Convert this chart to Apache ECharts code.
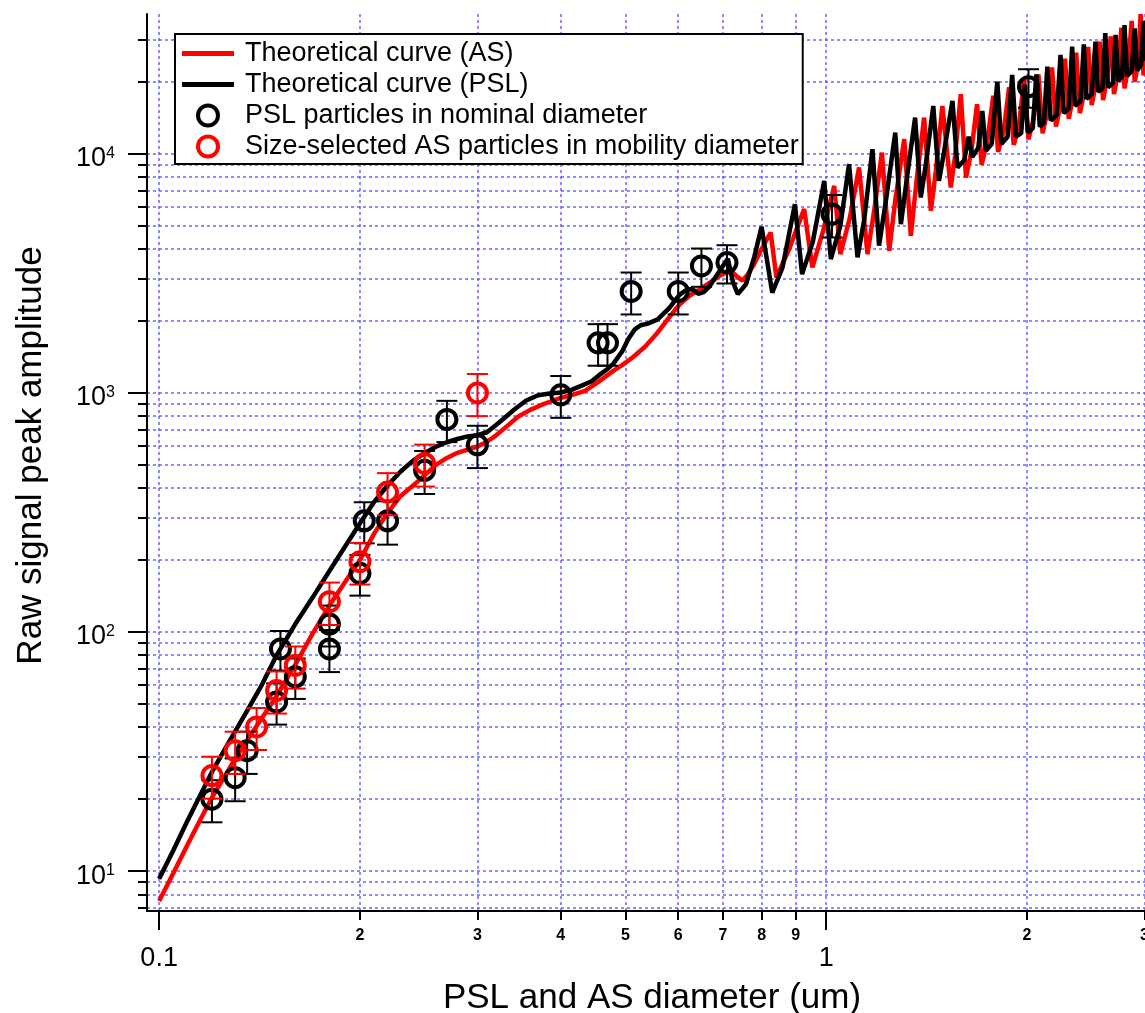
<!DOCTYPE html>
<html>
<head>
<meta charset="utf-8">
<script src="https://cdn.jsdelivr.net/npm/echarts@6/dist/echarts.min.js"></script>
<style>
  html, body { margin: 0; padding: 0; background: #ffffff; overflow: hidden; }
  #chart { width: 1145px; height: 1013px; }
</style>
</head>
<body>
<div id="chart"></div>
<script>
// ---- Tick positions and labels ----
const xMajorTicks  = [0.1, 1];
const xMajorLabels = ['0.1', '1'];
const xMinorTicks  = [0.2, 0.3, 0.4, 0.5, 0.6, 0.7, 0.8, 0.9, 2, 3];
const xMinorLabels = ['2', '3', '4', '5', '6', '7', '8', '9', '2', '3'];
const yMajorTicks  = [10, 100, 1000, 10000];
const yMajorExps   = ['1', '2', '3', '4'];
const yMinorTicks  = [7, 8, 9,
  20, 30, 40, 50, 60, 70, 80, 90,
  200, 300, 400, 500, 600, 700, 800, 900,
  2000, 3000, 4000, 5000, 6000, 7000, 8000, 9000,
  20000, 30000];

// ---- Theoretical curve, ammonium sulfate (diameter um, amplitude) ----
const asCurveX = [0.1, 0.105, 0.11, 0.115, 0.12, 0.13, 0.14, 0.15, 0.16, 0.17, 0.18, 0.19, 0.2, 0.21, 0.22, 0.23, 0.245, 0.26, 0.27, 0.28, 0.29, 0.3,
  0.31, 0.32, 0.333, 0.345, 0.36, 0.375, 0.39, 0.4, 0.415, 0.435, 0.455, 0.48, 0.495, 0.513, 0.535, 0.556, 0.58, 0.603, 0.625, 0.647, 0.67, 0.692,
  0.71, 0.724, 0.737, 0.749, 0.762, 0.777, 0.8, 0.8255, 0.842, 0.88, 0.9266, 0.9533, 0.99, 1.028, 1.05, 1.085, 1.12, 1.153, 1.18, 1.212, 1.243,
  1.27, 1.309, 1.339, 1.365, 1.402, 1.435, 1.46, 1.493, 1.537, 1.56, 1.591, 1.62, 1.65, 1.683, 1.71, 1.745, 1.78, 1.81, 1.845, 1.88, 1.91, 1.945,
  1.98, 2.01, 2.045, 2.08, 2.11, 2.145, 2.18, 2.21, 2.245, 2.28, 2.31, 2.34, 2.37, 2.4, 2.435, 2.47, 2.5, 2.535, 2.57, 2.6, 2.635, 2.67, 2.7,
  2.735, 2.77, 2.8, 2.835, 2.87, 2.9, 2.935, 2.96, 2.99, 3.01];
const asCurveY = [7.5, 9.8, 12.7, 16.2, 20.3, 29.5, 40.5, 54, 73, 99, 129, 162, 200, 258, 315, 370, 430, 500, 535, 562, 580, 597,
  625, 665, 730, 795, 850, 893, 930, 955, 980, 1020, 1110, 1240, 1310, 1410, 1560, 1760, 2050, 2350, 2560, 2720, 2900, 3090,
  3200, 3190, 3050, 2950, 3120, 3400, 4000, 4690, 3040, 4000, 5875, 3350, 4800, 7350, 3810, 5400, 8770, 3810, 5800, 10130, 3935,
  6500, 11520, 4540, 7600, 14180, 5780, 8500, 15870, 7240, 9800, 17760, 7965, 10200, 16130, 9000, 11500, 17500, 10200, 12500, 19000, 10900, 13200,
  20500, 11500, 14000, 21500, 12200, 15000, 23000, 13000, 16000, 25000, 14000, 17000, 26500, 14800, 18000, 28000, 16000, 19500, 29500, 16800, 20500, 31000, 17800,
  21500, 33700, 18800, 23000, 36000, 20000, 24000, 38400, 21300, 24000];

// ---- Theoretical curve, polystyrene latex ----
const pslCurveX = [0.1, 0.105, 0.11, 0.115, 0.12, 0.1275, 0.135, 0.1425, 0.15, 0.16, 0.17, 0.18, 0.19, 0.2, 0.21, 0.22, 0.23, 0.24, 0.25, 0.26,
  0.27, 0.28, 0.29, 0.3, 0.31, 0.32, 0.33, 0.34, 0.355, 0.37, 0.385, 0.4, 0.415, 0.43, 0.445, 0.457, 0.47, 0.48, 0.495, 0.505, 0.516, 0.527,
  0.54, 0.559, 0.582, 0.603, 0.62, 0.632, 0.643, 0.655, 0.669, 0.692, 0.712, 0.725, 0.737, 0.758, 0.78, 0.8, 0.83, 0.86, 0.8975, 0.92, 0.955,
  0.993, 1.016, 1.05, 1.082, 1.114, 1.14, 1.173, 1.2, 1.23, 1.269, 1.294, 1.32, 1.359, 1.386, 1.41, 1.447, 1.476, 1.5, 1.546, 1.573, 1.61,
  1.635, 1.655, 1.69, 1.714, 1.735, 1.77, 1.805, 1.83, 1.87, 1.9, 1.925, 1.96, 1.985, 2.005, 2.04, 2.065, 2.09, 2.12, 2.145, 2.17, 2.215,
  2.245, 2.27, 2.31, 2.337, 2.36, 2.405, 2.433, 2.455, 2.5, 2.533, 2.555, 2.595, 2.62, 2.645, 2.69, 2.715, 2.74, 2.775, 2.8, 2.825, 2.87,
  2.9, 2.925, 2.965, 2.99, 3.01];
const pslCurveY = [9.3, 12.2, 16, 20.5, 26, 35, 46, 60, 80, 108, 140, 180, 228, 285, 350, 410, 468, 520, 560, 596,
  622, 642, 658, 666, 685, 735, 790, 848, 930, 978, 995, 1005, 1030, 1073, 1120, 1190, 1260, 1330, 1500, 1680, 1840, 1920,
  1950, 2030, 2270, 2580, 2720, 2700, 2600, 2640, 2800, 3240, 3640, 2900, 2590, 2850, 3700, 4950, 2630, 3350, 6160, 3140, 4300,
  7700, 3630, 5000, 9060, 3690, 5300, 10460, 4130, 6500, 12280, 5080, 7800, 14180, 6570, 9000, 15870, 7710, 10000, 16650, 8770, 9400,
  11800, 9700, 10600, 15120, 10300, 11000, 20050, 11000, 11800, 21380, 11800, 12200, 19500, 12300, 12800, 21500, 13000, 13500, 23170, 13800, 14500,
  25930, 14800, 15500, 28080, 15900, 16600, 28730, 17000, 17800, 29460, 18200, 18800, 32000, 19000, 19800, 31500, 20200, 21000, 34600, 21200, 22200,
  33500, 22300, 23600, 36000, 24500];

// ---- Measured PSL particles (nominal diameter) ----
const pslX   = [0.12, 0.13, 0.1355, 0.15, 0.152, 0.16, 0.18, 0.18, 0.2, 0.203, 0.22, 0.25, 0.27, 0.3, 0.4, 0.455, 0.47, 0.51, 0.6, 0.65, 0.71, 1.02, 2.01];
const pslY   = [20, 24.6, 31.9, 51, 85, 65, 108, 85, 176, 292, 292, 475, 775, 607, 982, 1620, 1620, 2660, 2660, 3400, 3510, 5600, 19100];
const pslErr = [4, 5, 6.4, 10, 16, 12.5, 21, 17, 34, 57, 60, 97, 152, 122, 195, 320, 320, 530, 530, 620, 640, 1130, 3500];

// ---- Size-selected AS particles (mobility diameter) ----
const asX   = [0.12, 0.13, 0.14, 0.15, 0.16, 0.18, 0.2, 0.22, 0.25, 0.3];
const asY   = [25.1, 31.9, 40.1, 57, 72.5, 134, 197, 385, 507, 1000];
const asErr = [5, 6.4, 8, 11.4, 14.5, 27, 39, 77, 101, 200];

// ---- Styling ----
const FONT = 'Liberation Sans, Arial, sans-serif';
const GRID_COLOR = 'rgba(85, 85, 255, 0.9)';
const RED = '#ff0000';
const BLACK = '#000000';
const X_MIN = 0.0959, X_MAX = 3.005;
const Y_MIN = 6.81, Y_MAX = 38470;
// legend swatch for the curves: a 5px bar centred in a 52x20 box
const LINE_ICON = 'path://M0,0h0.01v0.01h-0.01z M0,7.5h52v5h-52z M0,20h0.01v-0.01h-0.01z';

function nearestIndex(list, v) {
  let best = 0, bestD = Infinity;
  list.forEach((t, i) => {
    const d = Math.abs(Math.log(v / t));
    if (d < bestD) { bestD = d; best = i; }
  });
  return best;
}

function zip(xs, ys) { return xs.map((x, i) => [x, ys[i]]); }

function errorBars(name, xs, ys, errs, color, z) {
  return {
    type: 'custom',
    name: name,
    z: z,
    xAxisIndex: 0,
    yAxisIndex: 0,
    silent: true,
    encode: { x: 0, y: 1 },
    data: xs.map((x, i) => [x, ys[i], errs[i]]),
    renderItem: function (params, api) {
      const x = api.value(0), y = api.value(1), e = api.value(2);
      const top = api.coord([x, y + e]);
      const bot = api.coord([x, y - e]);
      const hw = 10.5;
      const st = { stroke: color, lineWidth: 2 };
      return {
        type: 'group',
        children: [
          { type: 'line', shape: { x1: top[0], y1: top[1], x2: bot[0], y2: bot[1] }, style: st },
          { type: 'line', shape: { x1: top[0] - hw, y1: top[1], x2: top[0] + hw, y2: top[1] }, style: st },
          { type: 'line', shape: { x1: bot[0] - hw, y1: bot[1], x2: bot[0] + hw, y2: bot[1] }, style: st }
        ]
      };
    }
  };
}

const splitLine = { show: true, lineStyle: { color: GRID_COLOR, width: 1.5, type: [3, 3] } };

const chart = echarts.init(document.getElementById('chart'), null, { renderer: 'canvas' });

chart.setOption({
  animation: false,
  backgroundColor: '#ffffff',
  grid: { left: 147, top: 14, right: 0, bottom: 102, containLabel: false, outerBoundsMode: 'none' },
  legend: {
    orient: 'vertical',
    left: 175,
    top: 34,
    padding: [4, 4, 2, 7],
    itemGap: 0,
    itemWidth: 52,
    itemHeight: 20,
    selectedMode: false,
    backgroundColor: '#ffffff',
    borderColor: '#000000',
    borderWidth: 2,
    borderRadius: 0,
    textStyle: { fontFamily: FONT, fontSize: 27, color: '#000', lineHeight: 31, padding: [0, 0, 0, 6] },
    data: [
      { name: 'Theoretical curve (AS)', icon: LINE_ICON, itemStyle: { color: RED, borderWidth: 0 } },
      { name: 'Theoretical curve (PSL)', icon: LINE_ICON, itemStyle: { color: BLACK, borderWidth: 0 } },
      { name: 'PSL particles in nominal diameter', icon: 'circle',
        itemStyle: { color: 'rgba(0,0,0,0)', borderColor: BLACK, borderWidth: 4 } },
      { name: 'Size-selected AS particles in mobility diameter', icon: 'circle',
        itemStyle: { color: 'rgba(0,0,0,0)', borderColor: RED, borderWidth: 4 } }
    ]
  },
  xAxis: [
    {
      type: 'log', min: X_MIN, max: X_MAX, position: 'bottom',
      axisLine: { show: true, lineStyle: { color: BLACK, width: 2 } },
      axisTick: { show: true, length: 19, lineStyle: { color: BLACK, width: 2 }, customValues: xMajorTicks },
      axisLabel: {
        customValues: xMajorTicks, margin: 34, fontFamily: FONT, fontSize: 27, color: '#000',
        formatter: v => xMajorLabels[nearestIndex(xMajorTicks, v)]
      },
      splitLine: splitLine,
      name: 'PSL and AS diameter (um)', nameLocation: 'middle', nameGap: 70,
      nameTextStyle: { fontFamily: FONT, fontSize: 35, color: '#000', padding: [0, 0, 0, 12] }
    },
    {
      type: 'log', min: X_MIN, max: X_MAX, position: 'bottom',
      axisLine: { show: false },
      axisTick: { show: true, length: 9, lineStyle: { color: BLACK, width: 2 }, customValues: xMinorTicks },
      axisLabel: {
        customValues: xMinorTicks, margin: 17, fontFamily: FONT, fontSize: 16, fontWeight: 'bold', color: '#000',
        formatter: v => xMinorLabels[nearestIndex(xMinorTicks, v)]
      },
      splitLine: splitLine
    }
  ],
  yAxis: [
    {
      type: 'log', min: Y_MIN, max: Y_MAX, position: 'left',
      axisLine: { show: true, lineStyle: { color: BLACK, width: 2 } },
      axisTick: { show: true, length: 19, lineStyle: { color: BLACK, width: 2 }, customValues: yMajorTicks },
      axisLabel: {
        customValues: yMajorTicks, margin: 32, color: '#000', padding: [10, 0, 0, 0],
        formatter: v => '{b|10}{s|' + yMajorExps[nearestIndex(yMajorTicks, v)] + '}',
        rich: {
          b: { fontFamily: FONT, fontSize: 27, lineHeight: 27, verticalAlign: 'bottom', color: '#000' },
          s: { fontFamily: FONT, fontSize: 16, lineHeight: 16, verticalAlign: 'top', padding: [0, 0, 17, 0], color: '#000' }
        }
      },
      splitLine: splitLine,
      name: 'Raw signal peak amplitude', nameLocation: 'middle', nameGap: 98,
      nameTextStyle: { fontFamily: FONT, fontSize: 35, color: '#000', padding: [0, 0, 0, 14] }
    },
    {
      type: 'log', min: Y_MIN, max: Y_MAX, position: 'left',
      axisLine: { show: false },
      axisTick: { show: true, length: 9, lineStyle: { color: BLACK, width: 2 }, customValues: yMinorTicks },
      axisLabel: { show: false },
      splitLine: splitLine
    }
  ],
  series: [
    {
      name: 'Theoretical curve (AS)', type: 'line', z: 2,
      xAxisIndex: 0, yAxisIndex: 0,
      data: zip(asCurveX, asCurveY),
      symbol: 'none', showSymbol: false,
      lineStyle: { color: RED, width: 4.5 },
      itemStyle: { color: RED }
    },
    {
      name: 'Theoretical curve (PSL)', type: 'line', z: 3,
      xAxisIndex: 0, yAxisIndex: 0,
      data: zip(pslCurveX, pslCurveY),
      symbol: 'none', showSymbol: false,
      lineStyle: { color: BLACK, width: 4.5 },
      itemStyle: { color: BLACK }
    },
    errorBars('PSL error', pslX, pslY, pslErr, BLACK, 4),
    {
      name: 'PSL particles in nominal diameter', type: 'scatter', z: 5,
      xAxisIndex: 0, yAxisIndex: 0,
      data: zip(pslX, pslY),
      symbol: 'circle', symbolSize: 19,
      itemStyle: { color: 'rgba(0,0,0,0)', borderColor: BLACK, borderWidth: 4, opacity: 1 }
    },
    errorBars('AS error', asX, asY, asErr, RED, 6),
    {
      name: 'Size-selected AS particles in mobility diameter', type: 'scatter', z: 7,
      xAxisIndex: 0, yAxisIndex: 0,
      data: zip(asX, asY),
      symbol: 'circle', symbolSize: 19,
      itemStyle: { color: 'rgba(0,0,0,0)', borderColor: RED, borderWidth: 4, opacity: 1 }
    }
  ]
});
</script>
</body>
</html>
